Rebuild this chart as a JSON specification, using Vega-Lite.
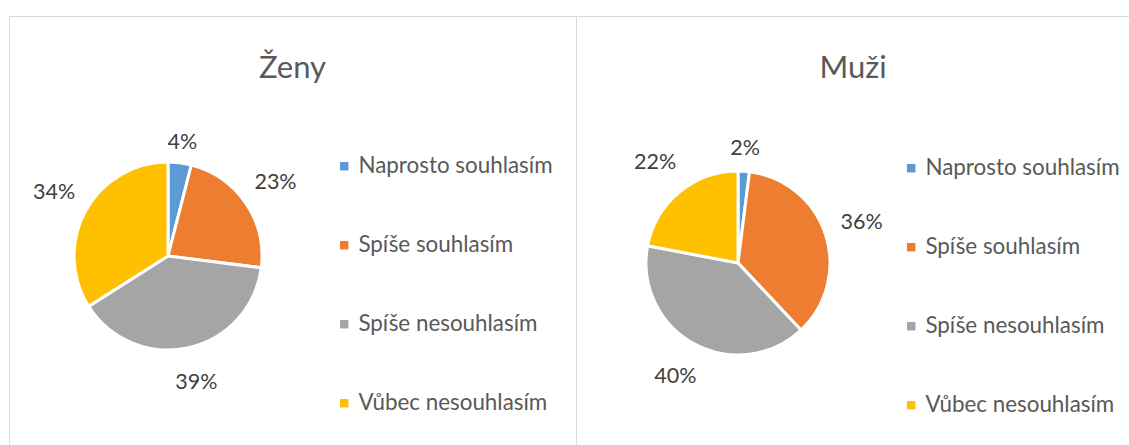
{
  "$schema": "https://vega.github.io/schema/vega-lite/v6.json",
  "padding": {"left": 8, "top": 15, "right": 0, "bottom": 0},
  "background": "white",
  "bounds": "flush",
  "config": {
    "view": {"stroke": "#d9d9d9", "strokeWidth": 1},
    "concat": {"spacing": 0},
    "font": "Lato"
  },
  "data": {
    "values": [
      {"skupina": "Ženy", "odpoved": "Naprosto souhlasím", "poradi": 1, "podil": 0.04},
      {"skupina": "Ženy", "odpoved": "Spíše souhlasím", "poradi": 2, "podil": 0.23},
      {"skupina": "Ženy", "odpoved": "Spíše nesouhlasím", "poradi": 3, "podil": 0.39},
      {"skupina": "Ženy", "odpoved": "Vůbec nesouhlasím", "poradi": 4, "podil": 0.34},
      {"skupina": "Muži", "odpoved": "Naprosto souhlasím", "poradi": 1, "podil": 0.02},
      {"skupina": "Muži", "odpoved": "Spíše souhlasím", "poradi": 2, "podil": 0.36},
      {"skupina": "Muži", "odpoved": "Spíše nesouhlasím", "poradi": 3, "podil": 0.40},
      {"skupina": "Muži", "odpoved": "Vůbec nesouhlasím", "poradi": 4, "podil": 0.22}
    ]
  },
  "resolve": {"scale": {"color": "independent"}, "legend": {"color": "independent"}},
  "hconcat": [
    {
      "width": 567,
      "height": 430,
      "view": {"stroke": "#d9d9d9", "strokeWidth": 1},
      "title": {"text": "Ženy", "offset": -69, "fontSize": 31, "fontWeight": "normal", "color": "#595959", "font": "Lato", "anchor": "middle"},
      "transform": [{"filter": "datum.skupina === 'Ženy'"}],
      "encoding": {
        "theta": {"field": "podil", "type": "quantitative", "stack": true},
        "order": {"field": "poradi", "type": "quantitative"}
      },
      "layer": [
        {
          "mark": {"type": "arc", "x": 159, "y": 240, "outerRadius": 94, "stroke": "white", "strokeWidth": 3},
          "encoding": {
            "color": {
              "field": "odpoved", "type": "nominal",
              "scale": {"domain": ["Naprosto souhlasím", "Spíše souhlasím", "Spíše nesouhlasím", "Vůbec nesouhlasím"], "range": ["#5B9BD5", "#ED7D31", "#A5A5A5", "#FFC000"]},
              "legend": {"orient": "none", "legendX": 324, "legendY": 139, "title": null, "symbolType": "square", "symbolSize": 72, "symbolStrokeWidth": 0, "labelFontSize": 22.4, "labelColor": "#595959", "labelFont": "Lato", "labelOffset": 3, "rowPadding": 56, "labelLimit": 300, "padding": 0}
            }
          }
        },
        {
          "mark": {"type": "text", "x": 159, "y": 240, "fontSize": 21.5, "color": "#404040", "font": "Lato"},
          "encoding": {
            "text": {"field": "podil", "type": "quantitative", "format": ".0%"},
            "radius": {"field": "podil", "type": "quantitative", "scale": {"type": "linear", "domain": [0.04, 0.1], "range": [114, 130], "clamp": true, "zero": false}}
          }
        }
      ]
    },
    {
      "width": 554,
      "height": 430,
      "view": {"stroke": "#d9d9d9", "strokeWidth": 1},
      "title": {"text": "Muži", "offset": -69, "fontSize": 31, "fontWeight": "normal", "color": "#595959", "font": "Lato", "anchor": "middle"},
      "transform": [{"filter": "datum.skupina === 'Muži'"}],
      "encoding": {
        "theta": {"field": "podil", "type": "quantitative", "stack": true},
        "order": {"field": "poradi", "type": "quantitative"}
      },
      "layer": [
        {
          "mark": {"type": "arc", "x": 162, "y": 247, "outerRadius": 92, "stroke": "white", "strokeWidth": 3},
          "encoding": {
            "color": {
              "field": "odpoved", "type": "nominal",
              "scale": {"domain": ["Naprosto souhlasím", "Spíše souhlasím", "Spíše nesouhlasím", "Vůbec nesouhlasím"], "range": ["#5B9BD5", "#ED7D31", "#A5A5A5", "#FFC000"]},
              "legend": {"orient": "none", "legendX": 324, "legendY": 141, "title": null, "symbolType": "square", "symbolSize": 72, "symbolStrokeWidth": 0, "labelFontSize": 22.4, "labelColor": "#595959", "labelFont": "Lato", "labelOffset": 3, "rowPadding": 56, "labelLimit": 300, "padding": 0}
            }
          }
        },
        {
          "mark": {"type": "text", "x": 162, "y": 247, "fontSize": 21.5, "color": "#404040", "font": "Lato"},
          "encoding": {
            "text": {"field": "podil", "type": "quantitative", "format": ".0%"},
            "radius": {"field": "podil", "type": "quantitative", "scale": {"type": "linear", "domain": [0.04, 0.1], "range": [114, 130], "clamp": true, "zero": false}}
          }
        }
      ]
    }
  ]
}
